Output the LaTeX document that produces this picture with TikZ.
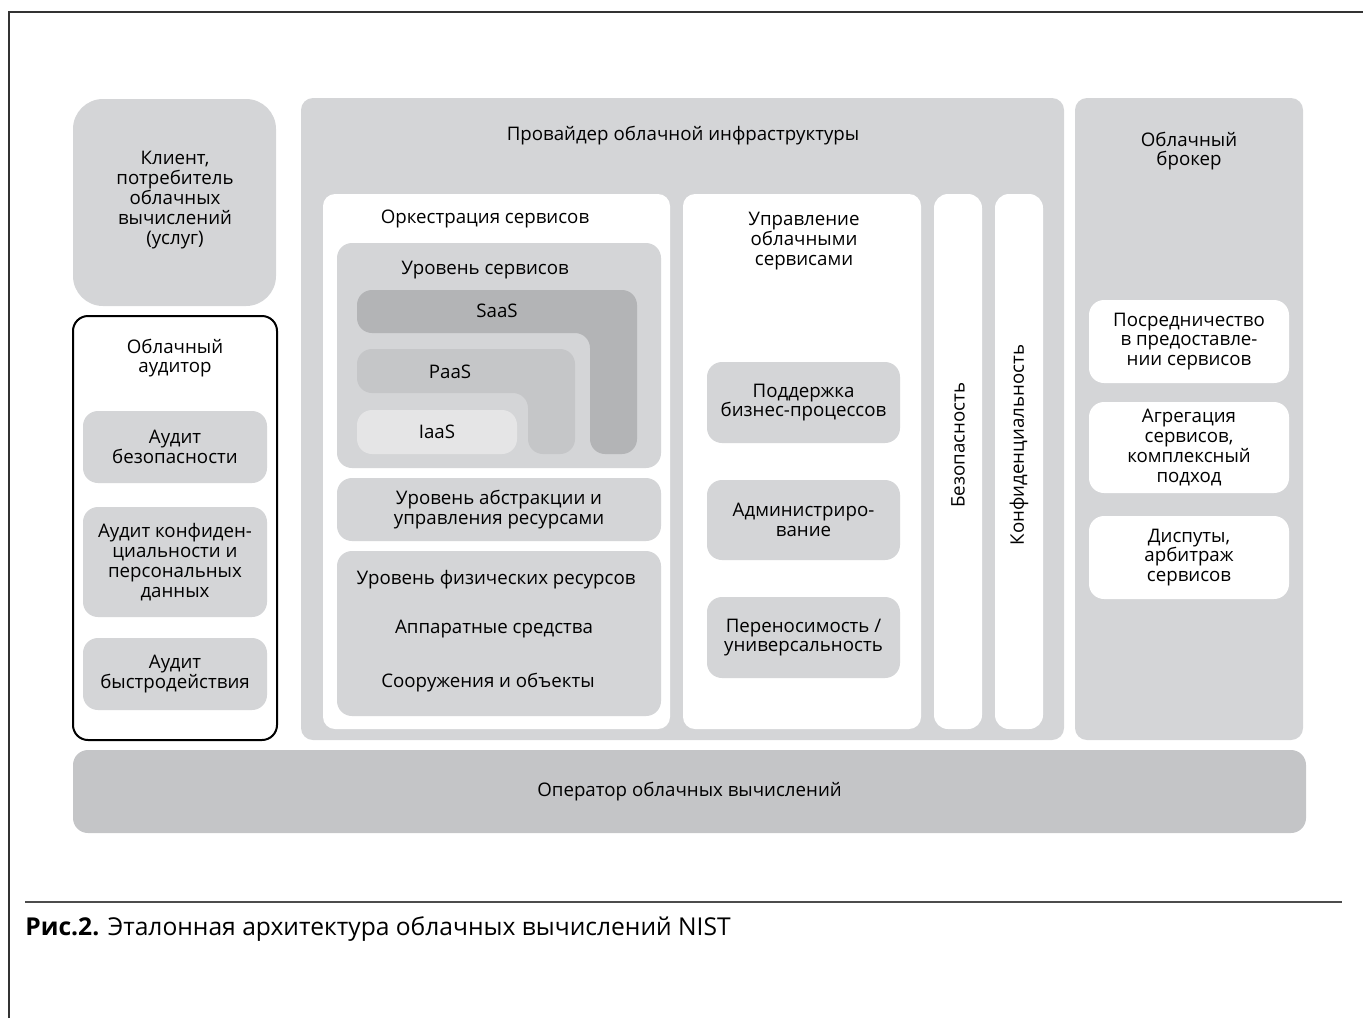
\documentclass[tikz,border=0pt]{standalone}
\usepackage{fontspec}
\setmainfont{Open Sans}
\usetikzlibrary{fit}
\definecolor{cloudgray}{HTML}{D4D5D7}
\definecolor{saasgray}{HTML}{B3B4B6}
\definecolor{paasgray}{HTML}{C5C6C8}
\definecolor{iaasgray}{HTML}{E5E5E6}
\definecolor{opgray}{HTML}{C4C5C7}
\tikzset{
  panel/.style={fill=cloudgray,rounded corners=6pt,inner sep=0pt},
  sheet/.style={fill=white,rounded corners=6pt,inner sep=0pt},
  subbox/.style={fill=cloudgray,rounded corners=7.5pt,inner sep=0pt},
  whitebox/.style={fill=white,rounded corners=7.5pt,inner sep=0pt},
  auditframe/.style={draw=black,line width=1pt,fill=white,rounded corners=7.5pt,inner sep=0pt},
  opbox/.style={fill=opgray,rounded corners=7.5pt,inner sep=0pt},
  boxtext/.style={align=center,inner sep=0pt},
  framestroke/.style={draw=black!80,line width=0.75pt},
  rulestroke/.style={draw=black!70,line width=0.75pt}
}
\begin{document}
\begin{tikzpicture}[x=0.5pt,y=-0.5pt,every node/.style={font=\fontsize{9.35}{9.9}\selectfont}]
\useasboundingbox (0,0) rectangle (1363,1018);
\draw[framestroke] (9,1018) -- (9,12) -- (1363,12);
% client and auditor
\node[panel,rounded corners=15pt,fit={(73,99) (276,306)}] (client) {};
\node[boxtext] (clienttxt) at (175,200) {Клиент,\\ потребитель\\ облачных\\ вычислений\\ (услуг)};
\node[auditframe,fit={(73,316) (277,740)}] (auditor) {};
\node[boxtext] (audtitle) at (175,358) {Облачный\\ аудитор};
\node[subbox,fit={(83,411) (267,483)}] (audsec) {};
\node[boxtext] (audsectxt) at (audsec) {Аудит\\ безопасности};
\node[subbox,fit={(83,507) (267,617)}] (audpriv) {};
\node[boxtext] (audprivtxt) at (audpriv) {Аудит конфиден-\\ циальности и\\ персональных\\ данных};
\node[subbox,fit={(83,638) (267,710)}] (audperf) {};
\node[boxtext] (audperftxt) at (audperf) {Аудит\\ быстродействия};
% provider
\node[panel,fit={(301,98) (1064,740)}] (provider) {};
\node (provtitle) at (683,136) {Провайдер облачной инфраструктуры};
\node[sheet,fit={(323,194) (670,729)}] (orch) {};
\node (orchtitle) at (485,219) {Оркестрация сервисов};
\node[subbox,fit={(337,243) (661,468)}] (svclevel) {};
\node (svctitle) at (485,270) {Уровень сервисов};
\fill[saasgray,rounded corners=7.5pt] (357,290) -- (637,290) -- (637,454) -- (590,454) -- (590,333) -- (357,333) -- cycle;
\fill[paasgray,rounded corners=7.5pt] (357,349) -- (575,349) -- (575,454) -- (528,454) -- (528,393) -- (357,393) -- cycle;
\node[whitebox,fill=iaasgray,fit={(357,410) (517,454)}] (iaasbox) {};
\node (saas) at (497,311) {SaaS};
\node (paas) at (450,372) {PaaS};
\node (iaas) at (iaasbox) {IaaS};
\node[subbox,fit={(337,478) (661,541)}] (abstr) {};
\node[boxtext] (abstrtxt) at (abstr) {Уровень абстракции и\\ управления ресурсами};
\node[subbox,fit={(337,551) (661,716)}] (phys) {};
\node (phystitle) at (496,580) {Уровень физических ресурсов};
\node (hw) at (494,629) {Аппаратные средства};
\node (fac) at (488,683) {Сооружения и объекты};
\node[sheet,fit={(683,194) (921,729)}] (mgmt) {};
\node[boxtext] (mgmttitle) at (804,241) {Управление\\ облачными\\ сервисами};
\node[subbox,fit={(707,362) (900,443)}] (bizsup) {};
\node[boxtext] (bizsuptxt) at (bizsup) {Поддержка\\ бизнес-процессов};
\node[subbox,fit={(707,480) (900,560)}] (admin) {};
\node[boxtext] (admintxt) at (admin) {Администриро-\\ вание};
\node[subbox,fit={(707,597) (900,678)}] (port) {};
\node[boxtext] (porttxt) at (port) {Переносимость /\\ универсальность};
\node[sheet,rounded corners=7pt,fit={(934,194) (982,729)}] (security) {};
\node[rotate=90] (sectxt) at (958,445) {Безопасность};
\node[sheet,rounded corners=7pt,fit={(995,194) (1043,729)}] (privacy) {};
\node[rotate=90] (privtxt) at (1019,445) {Конфиденциальность};
% broker
\node[panel,fit={(1075,98) (1303,740)}] (broker) {};
\node[boxtext] (brokertitle) at (1189,151) {Облачный\\ брокер};
\node[whitebox,fit={(1089,300) (1289,383)}] (interm) {};
\node[boxtext] (intermtxt) at (interm) {Посредничество\\ в предоставле-\\ нии сервисов};
\node[whitebox,fit={(1089,402) (1289,493)}] (aggr) {};
\node[boxtext] (aggrtxt) at (aggr) {Агрегация\\ сервисов,\\ комплексный\\ подход};
\node[whitebox,fit={(1089,516) (1289,599)}] (arb) {};
\node[boxtext] (arbtxt) at (arb) {Диспуты,\\ арбитраж\\ сервисов};
% operator
\node[opbox,fit={(73,750) (1306,833)}] (operator) {};
\node (optxt) at (operator) {Оператор облачных вычислений};
% caption
\draw[rulestroke] (25,902) -- (1342,902);
\node[anchor=base west,inner sep=0pt,font=\fontsize{12.3}{14}\selectfont] (caption) at (25,935) {\textbf{Рис.2.} Эталонная архитектура облачных вычислений NIST};
\end{tikzpicture}
\end{document}
